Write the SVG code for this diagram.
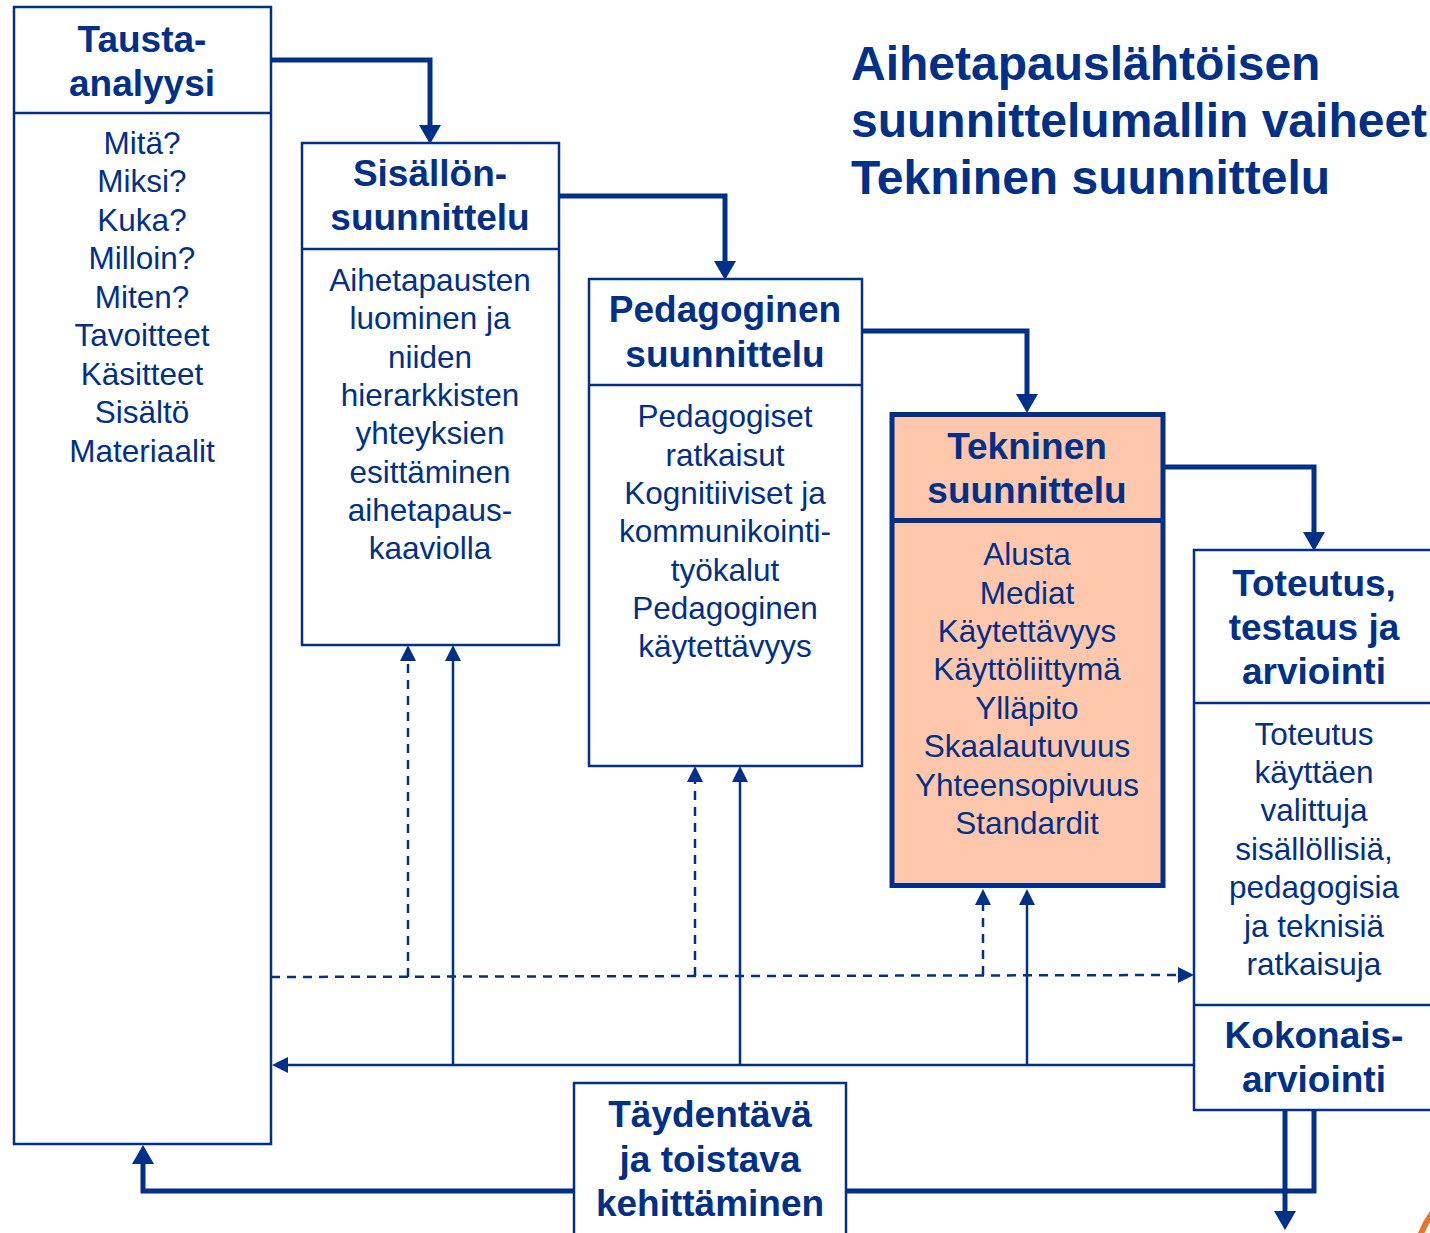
<svg xmlns="http://www.w3.org/2000/svg" width="1430" height="1233" viewBox="0 0 1430 1233">
  <style>
    text { font-family: "Liberation Sans", Arial, sans-serif; fill: #003087; text-anchor: middle; }
    .head { font-size: 37px; font-weight: bold; }
    .body { font-size: 31.5px; }
    .title { font-size: 48px; font-weight: bold; text-anchor: start; }
    .box { fill: #ffffff; stroke: #003087; stroke-width: 2.5; }
    .hot { fill: #ffc7ab; stroke: #003087; stroke-width: 5; }
    .rule { stroke: #003087; stroke-width: 2.5; }
    .rule-thick { stroke: #003087; stroke-width: 5; }
    .flow { fill: none; stroke: #003087; stroke-width: 5; stroke-linejoin: miter; }
    .back { fill: none; stroke: #003087; stroke-width: 2.5; }
    .dash { fill: none; stroke: #003087; stroke-width: 2.5; stroke-dasharray: 9 7; }
  </style>
  <defs>
    <marker id="arrow-thick" markerUnits="userSpaceOnUse" markerWidth="20" markerHeight="22" refX="0" refY="11" orient="auto">
      <path d="M0,0 L19,11 L0,22 z" fill="#003087"/>
    </marker>
    <marker id="arrow-thin" markerUnits="userSpaceOnUse" markerWidth="17" markerHeight="16" refX="0" refY="8" orient="auto">
      <path d="M0,0 L16,8 L0,16 z" fill="#003087"/>
    </marker>
  </defs>

  <rect width="1430" height="1233" fill="#ffffff"/>

  <!-- title -->
  <g id="title">
    <text class="title" x="851" y="80">Aihetapauslähtöisen</text>
    <text class="title" x="851" y="137">suunnittelumallin vaiheet</text>
    <text class="title" x="851" y="194">Tekninen suunnittelu</text>
  </g>

  <!-- connectors -->
  <g id="connectors">
    <!-- main phase sequence -->
    <path class="flow" d="M271,60 H430 V125" marker-end="url(#arrow-thick)"/>
    <path class="flow" d="M559,196 H725 V261" marker-end="url(#arrow-thick)"/>
    <path class="flow" d="M862,331 H1027 V394" marker-end="url(#arrow-thick)"/>
    <path class="flow" d="M1164,467 H1314 V532" marker-end="url(#arrow-thick)"/>
    <!-- iterative loop back to the start -->
    <path class="flow" d="M1314,1110 V1191 H143 V1164" marker-end="url(#arrow-thick)"/>
    <path class="flow" d="M1285,1110 V1211" marker-end="url(#arrow-thick)"/>
    <!-- feedback lines -->
    <path class="back" d="M1194,1065 H288" marker-end="url(#arrow-thin)"/>
    <path class="back" d="M453,1065 V661" marker-end="url(#arrow-thin)"/>
    <path class="back" d="M740,1065 V782" marker-end="url(#arrow-thin)"/>
    <path class="back" d="M1027,1065 V905" marker-end="url(#arrow-thin)"/>
    <!-- dashed forward links -->
    <path class="dash" d="M271,977 L1178,975" marker-end="url(#arrow-thin)"/>
    <path class="dash" d="M408,977 V661" marker-end="url(#arrow-thin)"/>
    <path class="dash" d="M695,976 V782" marker-end="url(#arrow-thin)"/>
    <path class="dash" d="M983,975 V905" marker-end="url(#arrow-thin)"/>
  </g>

  <!-- background analysis -->
  <g id="taustaanalyysi">
    <rect class="box" x="14" y="7" width="257" height="1137"/>
    <line class="rule" x1="14" y1="113" x2="271" y2="113"/>
    <text class="head" x="142" y="52">Tausta-</text>
    <text class="head" x="142" y="96">analyysi</text>
    <text class="body" x="142" y="154">Mitä?</text>
    <text class="body" x="142" y="192">Miksi?</text>
    <text class="body" x="142" y="231">Kuka?</text>
    <text class="body" x="142" y="269">Milloin?</text>
    <text class="body" x="142" y="308">Miten?</text>
    <text class="body" x="142" y="346">Tavoitteet</text>
    <text class="body" x="142" y="385">Käsitteet</text>
    <text class="body" x="142" y="423">Sisältö</text>
    <text class="body" x="142" y="462">Materiaalit</text>
  </g>

  <!-- content design -->
  <g id="sisallonsuunnittelu">
    <rect class="box" x="302" y="143" width="257" height="502"/>
    <line class="rule" x1="302" y1="249" x2="559" y2="249"/>
    <text class="head" x="430" y="186">Sisällön-</text>
    <text class="head" x="430" y="230">suunnittelu</text>
    <text class="body" x="430" y="291">Aihetapausten</text>
    <text class="body" x="430" y="329">luominen ja</text>
    <text class="body" x="430" y="368">niiden</text>
    <text class="body" x="430" y="406">hierarkkisten</text>
    <text class="body" x="430" y="444">yhteyksien</text>
    <text class="body" x="430" y="483">esittäminen</text>
    <text class="body" x="430" y="521">aihetapaus-</text>
    <text class="body" x="430" y="559">kaaviolla</text>
  </g>

  <!-- pedagogical design -->
  <g id="pedagoginensuunnittelu">
    <rect class="box" x="589" y="279" width="273" height="487"/>
    <line class="rule" x1="589" y1="385" x2="862" y2="385"/>
    <text class="head" x="725" y="322">Pedagoginen</text>
    <text class="head" x="725" y="367">suunnittelu</text>
    <text class="body" x="725" y="427">Pedagogiset</text>
    <text class="body" x="725" y="466">ratkaisut</text>
    <text class="body" x="725" y="504">Kognitiiviset ja</text>
    <text class="body" x="725" y="542">kommunikointi-</text>
    <text class="body" x="725" y="581">työkalut</text>
    <text class="body" x="725" y="619">Pedagoginen</text>
    <text class="body" x="725" y="657">käytettävyys</text>
  </g>

  <!-- technical design (current phase) -->
  <g id="tekninensuunnittelu">
    <rect class="hot" x="892" y="414.5" width="271" height="471"/>
    <line class="rule-thick" x1="892" y1="520.5" x2="1163" y2="520.5"/>
    <text class="head" x="1027" y="459">Tekninen</text>
    <text class="head" x="1027" y="503">suunnittelu</text>
    <text class="body" x="1027" y="565">Alusta</text>
    <text class="body" x="1027" y="604">Mediat</text>
    <text class="body" x="1027" y="642">Käytettävyys</text>
    <text class="body" x="1027" y="680">Käyttöliittymä</text>
    <text class="body" x="1027" y="719">Ylläpito</text>
    <text class="body" x="1027" y="757">Skaalautuvuus</text>
    <text class="body" x="1027" y="796">Yhteensopivuus</text>
    <text class="body" x="1027" y="834">Standardit</text>
  </g>

  <!-- implementation, testing and evaluation -->
  <g id="toteutus">
    <rect class="box" x="1194" y="550" width="250" height="560"/>
    <line class="rule" x1="1194" y1="703" x2="1444" y2="703"/>
    <line class="rule" x1="1194" y1="1005" x2="1444" y2="1005"/>
    <text class="head" x="1314" y="596">Toteutus,</text>
    <text class="head" x="1314" y="640">testaus ja</text>
    <text class="head" x="1314" y="684">arviointi</text>
    <text class="body" x="1314" y="745">Toteutus</text>
    <text class="body" x="1314" y="783">käyttäen</text>
    <text class="body" x="1314" y="821">valittuja</text>
    <text class="body" x="1314" y="860">sisällöllisiä,</text>
    <text class="body" x="1314" y="898">pedagogisia</text>
    <text class="body" x="1314" y="937">ja teknisiä</text>
    <text class="body" x="1314" y="975">ratkaisuja</text>
    <text class="head" x="1314" y="1048">Kokonais-</text>
    <text class="head" x="1314" y="1092">arviointi</text>
  </g>

  <!-- iterative development -->
  <g id="taydentava">
    <rect class="box" x="574" y="1083" width="272" height="170"/>
    <text class="head" x="710" y="1127">Täydentävä</text>
    <text class="head" x="710" y="1172">ja toistava</text>
    <text class="head" x="710" y="1216">kehittäminen</text>
  </g>

  <!-- corner ornament -->
  <path d="M1420,1236 Q1425,1223 1433,1212" fill="none" stroke="#e8772e" stroke-width="6"/>
</svg>
